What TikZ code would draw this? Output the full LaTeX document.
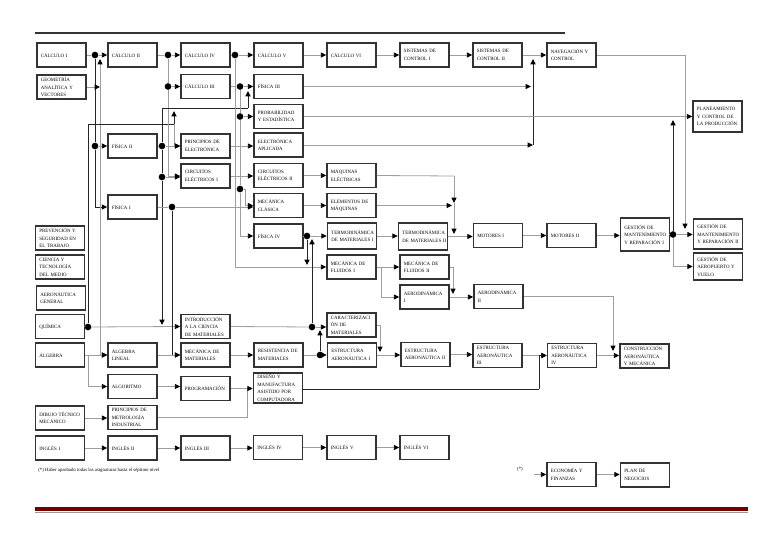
\documentclass[tikz,border=0pt]{standalone}
\usepackage{fontspec}
\setmainfont{Liberation Serif}
\usetikzlibrary{arrows.meta}
\begin{document}
\begin{tikzpicture}[x=0.75pt,y=-0.75pt,
  cbox/.style={draw=black!80, line width=1.15pt, fill=white, minimum width=36.75pt, minimum height=18pt,
    text width=31pt, inner xsep=2.9pt, inner ysep=0pt, align=left, font=\fontsize{3.7}{5.6}\selectfont},
  ln/.style={draw=black!38, line width=0.6pt},
  dk/.style={draw=black!85, line width=0.75pt},
  arw/.style={-{Triangle[length=4pt,width=3.8pt,color=black]}},
  jdot/.style={circle, fill=black, inner sep=0pt, minimum size=5pt},
  note/.style={font=\fontsize{3.6}{4.5}\selectfont, inner sep=0pt}]
\useasboundingbox (0,0) rectangle (768,543);
% decorative rules
\draw[black!80, line width=1.3pt] (35,33) -- (565,33);
\draw[red!45!black, line width=2.4pt] (35,509) -- (748,509);
\draw[black!40, line width=0.8pt] (35,512.5) -- (748,512.5);

% ---- boxes ----
\node[cbox] (calI) at (61.5,55) {CÁLCULO I};
\node[cbox] (geom) at (61.5,87) {GEOMETRÍA\\ANALÍTICA Y\\VECTORES};
\node[cbox] (prev) at (60,238) {PREVENCIÓN Y\\SEGURIDAD EN\\EL TRABAJO};
\node[cbox] (cien) at (60,267) {CIENCIA Y\\TECNOLOGÍA\\DEL MEDIO};
\node[cbox] (aerog) at (61,298) {AERONÁUTICA\\GENERAL};
\node[cbox] (quim) at (60,326.5) {QUÍMICA};
\node[cbox] (alg) at (60,355) {ÁLGEBRA};
\node[cbox] (dib) at (60,418) {DIBUJO TÉCNICO\\MECÁNICO};
\node[cbox] (ing1) at (60,448) {INGLÉS I};

\node[cbox] (calII) at (132.5,55) {CÁLCULO II};
\node[cbox] (fis2) at (132.5,146) {FÍSICA II};
\node[cbox] (fis1) at (132.5,207) {FÍSICA I};
\node[cbox] (alglin) at (132.5,355) {ÁLGEBRA\\LINEAL};
\node[cbox] (algor) at (132.5,386.5) {ALGORITMO};
\node[cbox] (metro) at (132.5,417.5) {PRINCIPIOS DE\\METROLOGÍA\\INDUSTRIAL};
\node[cbox] (ing2) at (132.5,448) {INGLÉS II};

\node[cbox] (calIV) at (205.5,55) {CÁLCULO IV};
\node[cbox] (calIII) at (205.5,86.5) {CÁLCULO III};
\node[cbox] (pelec) at (205.5,146) {PRINCIPIOS DE\\ELECTRÓNICA};
\node[cbox] (circ1) at (205.5,176) {CIRCUITOS\\ELÉCTRICOS I};
\node[cbox] (intro) at (205.5,326.5) {INTRODUCCIÓN\\A LA CIENCIA\\DE MATERIALES};
\node[cbox] (mecmat) at (205.5,355) {MECÁNICA DE\\MATERIALES};
\node[cbox] (prog) at (205.5,388.5) {PROGRAMACIÓN};
\node[cbox] (ing3) at (205.5,448) {INGLÉS III};

\node[cbox] (calV) at (278.5,55) {CÁLCULO V};
\node[cbox] (fis3) at (278.5,86.5) {FÍSICA III};
\node[cbox] (prob) at (278.5,116.5) {PROBABILIDAD\\Y ESTADÍSTICA};
\node[cbox] (elap) at (278.5,145) {ELECTRÓNICA\\APLICADA};
\node[cbox] (circ2) at (278.5,175.5) {CIRCUITOS\\ELÉCTRICOS II};
\node[cbox] (mecl) at (278.5,205.5) {MECÁNICA\\CLÁSICA};
\node[cbox] (fis4) at (278.5,236) {FÍSICA IV};
\node[cbox] (resis) at (278.5,355) {RESISTENCIA DE\\MATERIALES};
\node[cbox,minimum height=22.5pt] (disen) at (278,388) {DISEÑO Y\\MANUFACTURA\\ASISTIDO POR\\COMPUTADORA};
\node[cbox] (ing4) at (278,447.5) {INGLÉS IV};

\node[cbox] (calVI) at (351.5,55) {CÁLCULO VI};
\node[cbox] (maqe) at (351.5,175.5) {MÁQUINAS\\ELÉCTRICAS};
\node[cbox] (elem) at (351.5,205.5) {ELEMENTOS DE\\MÁQUINAS};
\node[cbox,minimum height=19.5pt] (termo1) at (352,236) {TERMODINÁMICA\\\mbox{DE MATERIALES I}};
\node[cbox] (fluid1) at (351.5,267) {MECÁNICA DE\\FLUIDOS I};
\node[cbox] (carac) at (351.5,325) {CARACTERIZACI\\ÓN DE\\MATERIALES};
\node[cbox] (estr1) at (352,355) {ESTRUCTURA\\AERONÁUTICA I};
\node[cbox] (ing5) at (351.5,447.5) {INGLÉS V};

\node[cbox] (sc1) at (424.5,55) {SISTEMAS DE\\CONTROL I};
\node[cbox,minimum height=20pt] (termo2) at (423,236.5) {TERMODINÁMICA\\\mbox{DE MATERIALES II}};
\node[cbox] (fluid2) at (424.5,267) {MECÁNICA DE\\FLUIDOS II};
\node[cbox] (aero1) at (424.5,297) {AERODINÁMICA\\I};
\node[cbox] (estr2) at (425.5,354.5) {ESTRUCTURA\\AERONÁUTICA II};
\node[cbox] (ing6) at (424.5,447.5) {INGLÉS VI};

\node[cbox] (sc2) at (497.5,55) {SISTEMAS DE\\CONTROL II};
\node[cbox] (mot1) at (498,235.5) {MOTORES I};
\node[cbox] (aero2) at (498.5,296.5) {AERODINÁMICA\\II};
\node[cbox] (estr3) at (497.5,355.5) {ESTRUCTURA\\AERONÁUTICA\\III};

\node[cbox] (nav) at (571.5,55) {NAVEGACIÓN Y\\CONTROL};
\node[cbox] (mot2) at (571.5,235.5) {MOTORES II};
\node[cbox] (estr4) at (572,355.5) {ESTRUCTURA\\AERONÁUTICA\\IV};
\node[cbox] (econ) at (571.5,474.5) {ECONOMÍA Y\\FINANZAS};

\node[cbox,minimum height=24.75pt] (gm1) at (645,234.5) {GESTIÓN DE\\MANTENIMIENTO\\Y REPARACIÓN I};
\node[cbox] (constr) at (644.5,356) {CONSTRUCCIÓN\\AERONÁUTICA\\Y MECÁNICA};
\node[cbox] (plan) at (645,475) {PLAN DE\\NEGOCIOS};

\node[cbox,minimum height=23pt] (plane) at (717.5,116.5) {PLANEAMIENTO\\Y CONTROL DE\\LA PRODUCCIÓN};
\node[cbox,minimum height=22.5pt] (gm2) at (718,234) {GESTIÓN DE\\MANTENIMIENTO\\Y REPARACIÓN II};
\node[cbox,minimum height=20pt] (gaer) at (718,266.5) {GESTIÓN DE\\AEROPUERTO Y\\VUELO};

% notes
\node[note,anchor=west] (fn) at (38,470) {(*) Haber aprobado todas las asignaturas hasta el séptimo nivel};
\node[note] (ast) at (520,469) {(*)};

% ---- junctions ----
\node[jdot] (d1) at (95,55) {};
\node[jdot] (d2) at (95,146) {};
\coordinate (c3) at (95,207);
\coordinate (g100) at (100,87);
\coordinate (t100) at (100,59);
\node[jdot] (dq) at (88,327) {};
\coordinate (q1) at (88,124);
\coordinate (q2) at (174,124);
\coordinate (q2up) at (174,111);
\coordinate (a88) at (88,355);
\node[jdot] (dc2) at (168,55) {};
\node[jdot] (dc3in) at (168,86.5) {};
\node[jdot] (df2) at (162,146) {};
\coordinate (c162t) at (162,108);
\coordinate (c248) at (248,108);
\coordinate (f3in) at (248,91);
\node[jdot] (d162c) at (162,177) {};
\coordinate (c162b) at (162,325);
\node[jdot] (df1) at (172,207) {};
\node[jdot] (dc4) at (235,55) {};
\node[jdot] (dc3o) at (240,86.5) {};
\node[jdot] (d240p) at (240,116.5) {};
\node[jdot] (d240m) at (240,189) {};
\coordinate (c245) at (245,189);
\coordinate (c240b) at (240,236);
\node[jdot] (df4) at (307,236) {};
\coordinate (c307) at (307,265);
\node[jdot] (dint) at (312,327) {};
\coordinate (c312) at (312,239);
\node[jdot] (dres) at (320,355) {};
\coordinate (c320) at (320,330);
\coordinate (cc2) at (380,352);
\coordinate (c381) at (381,267);
\coordinate (c453) at (453,294);
\coordinate (c454t) at (454,176);
\coordinate (c454m) at (454,203);
\coordinate (c454e) at (452,205.5);
\coordinate (c454b) at (454,234);
\coordinate (c533t) at (533,59);
\coordinate (c533f) at (531,86.5);
\coordinate (c533b) at (533,145);
\coordinate (c685) at (685,229);
\node[jdot] (dgm) at (673,234.5) {};
\coordinate (c673t) at (673,120);
\coordinate (c613) at (613,351);
\coordinate (c539) at (539,389);
\coordinate (c247) at (247,388.5);
\coordinate (astr) at (534,474.5);

% ---- connectors ----
% Calculo I
\draw[ln] (calI.east) -- (d1);
\draw[ln,arw] (d1) -- (calII.west);
\draw[dk] (d1) -- (d2);
\draw[ln,arw] (d2) -- (fis2.west);
\draw[dk] (d2) -- (c3);
\draw[dk,arw] (c3) -- (fis1.west);
% Geometria
\draw[ln,arw] (geom.east) -- (g100);
\draw[ln,arw] (g100) -- (t100);
\draw[ln,arw] (g100) |- (alglin.west);
% Quimica
\draw[ln] (quim.east) -- (dq);
\draw[ln,arw] (dq) -- (intro.west);
\draw[dk] (dq) -- (q1) -- (q2);
\draw[dk,arw] (q2) -- (q2up);
\draw[ln,arw] (q2) |- (pelec.west);
% Algebra
\draw[ln] (alg.east) -- (a88);
\draw[ln,arw] (a88) -- (alglin.west);
\draw[ln,arw] (a88) |- (algor.west);
% Calculo II
\draw[ln] (calII.east) -- (dc2);
\draw[ln,arw] (dc2) -- (calIV.west);
\draw[ln] (dc2) -- (dc3in);
\draw[ln,arw] (dc3in) -- (calIII.west);
\draw[ln,arw] (dc3in) |- (circ1.west);
% Fisica II
\draw[ln] (fis2.east) -- (df2);
\draw[ln,arw] (df2) -- (pelec.west);
\draw[dk] (df2) -- (c162t) -- (c248);
\draw[dk,arw] (c248) -- (f3in);
\draw[dk] (df2) -- (d162c);
\draw[ln,arw] (d162c) -- (d162c -| circ1.west);
\draw[dk,arw] (d162c) -- (c162b);
% Fisica I
\draw[ln] (fis1.east) -- (df1);
\draw[ln,arw] (df1) -- (df1 -| mecl.west);
\draw[dk,arw] (df1) |- (mecmat.west);
% Calculo IV
\draw[ln] (calIV.east) -- (dc4);
\draw[ln,arw] (dc4) -- (calV.west);
\draw[ln,arw] (dc4) |- (fluid1.west);
% Calculo III
\draw[ln] (calIII.east) -- (dc3o);
\draw[ln,arw] (dc3o) -- (fis3.west);
\draw[ln] (dc3o) -- (d240p) -- (d240m) -- (c240b);
\draw[ln,arw] (d240p) -- (prob.west);
\draw[ln,arw] (c240b) -- (fis4.west);
\draw[ln] (d240m) -- (c245);
\draw[ln,arw] (c245) |- (mecl.west);
% second year
\draw[ln,arw] (pelec.east) -- (pelec.east -| elap.west);
\draw[ln,arw] (circ1.east) -- (circ1.east -| circ2.west);
\draw[ln,arw] (circ2.east) -- (maqe.west);
\draw[ln,arw] (mecl.east) -- (elem.west);
\draw[ln] (maqe.east) -- (c454t);
\draw[ln,arw] (c454t) -- (c454m);
\draw[ln,arw] (c454m) -- (c454b);
\draw[ln,arw] (elem.east) -- (c454e);
\draw[ln] (fis4.east) -- (df4);
\draw[ln,arw] (df4) -- (termo1.west);
\draw[dk,arw] (df4) -- (c307);
\draw[ln] (intro.east) -- (dint);
\draw[dk,arw] (dint) -- (c312);
\draw[ln,arw] (dint) -- (dint -| carac.west);
\draw[ln] (resis.east) -- (dres);
\draw[ln,arw] (dres) -- (estr1.west);
\draw[dk,arw] (dres) -- (c320);
\draw[ln,arw] (carac.east) -| (cc2);
\draw[ln,arw] (termo1.east) -- (termo1.east -| termo2.west);
\draw[ln,arw] (termo2.east) -- (termo2.east -| mot1.west);
\draw[ln,arw] (mot1.east) -- (mot2.west);
\draw[ln,arw] (mot2.east) -- (mot2.east -| gm1.west);
\draw[ln,arw] (fluid1.east) -- (fluid2.west);
\draw[ln,arw] (c381) |- (aero1.west);
\draw[ln,arw] (fluid2.east) -| (c453);
\draw[ln,arw] (aero1.east) -- (aero1.east -| aero2.west);
\draw[ln,arw] (aero2.east) -| (c613);
% lower rows
\draw[ln,arw] (alglin.east) -- (mecmat.west);
\draw[ln,arw] (mecmat.east) -- (resis.west);
\draw[ln,arw] (algor.east) -- (algor.east -| prog.west);
\draw[ln,arw] (dib.east) -- (dib.east -| metro.west);
\draw[ln] (prog.east) -- (c247);
\draw[ln] (metro.east) -| (c247);
\draw[ln,arw] (c247) -- (c247 -| disen.west);
\draw[ln,arw] (estr1.east) -- (estr1.east -| estr2.west);
\draw[ln,arw] (estr2.east) -- (estr2.east -| estr3.west);
\draw[ln,arw] (estr3.east) -- (estr4.west);
\draw[ln,arw] (estr4.east) -- (estr4.east -| constr.west);
\draw[dk] (disen.east |- c539) -- (c539);
\draw[dk,arw] (c539) |- (estr4.west);
\draw[ln,arw] (ing1.east) -- (ing2.west);
\draw[ln,arw] (ing2.east) -- (ing3.west);
\draw[ln,arw] (ing3.east) -- (ing3.east -| ing4.west);
\draw[ln,arw] (ing4.east) -- (ing5.west);
\draw[ln,arw] (ing5.east) -- (ing6.west);
\draw[ln,arw] (astr) -- (econ.west);
\draw[ln,arw] (econ.east) -- (econ.east -| plan.west);
% top row
\draw[ln,arw] (calV.east) -- (calVI.west);
\draw[ln,arw] (calVI.east) -- (sc1.west);
\draw[ln,arw] (sc1.east) -- (sc2.west);
\draw[ln,arw] (sc2.east) -- (nav.west);
\draw[dk,arw] (c533b) -- (c533t);
\draw[ln,arw] (fis3.east) -- (c533f);
\draw[ln,arw] (elap.east) -- (elap.east -| c533b);
\draw[ln,arw] (prob.east) -- (prob.east -| plane.west);
\draw[ln,arw] (nav.east) -| (c685);
\draw[ln] (gm1.east) -- (dgm);
\draw[ln,arw] (dgm) -- (dgm -| gm2.west);
\draw[dk,arw] (dgm) -- (c673t);
\draw[ln,arw] (dgm) |- (gaer.west);
\end{tikzpicture}
\end{document}
